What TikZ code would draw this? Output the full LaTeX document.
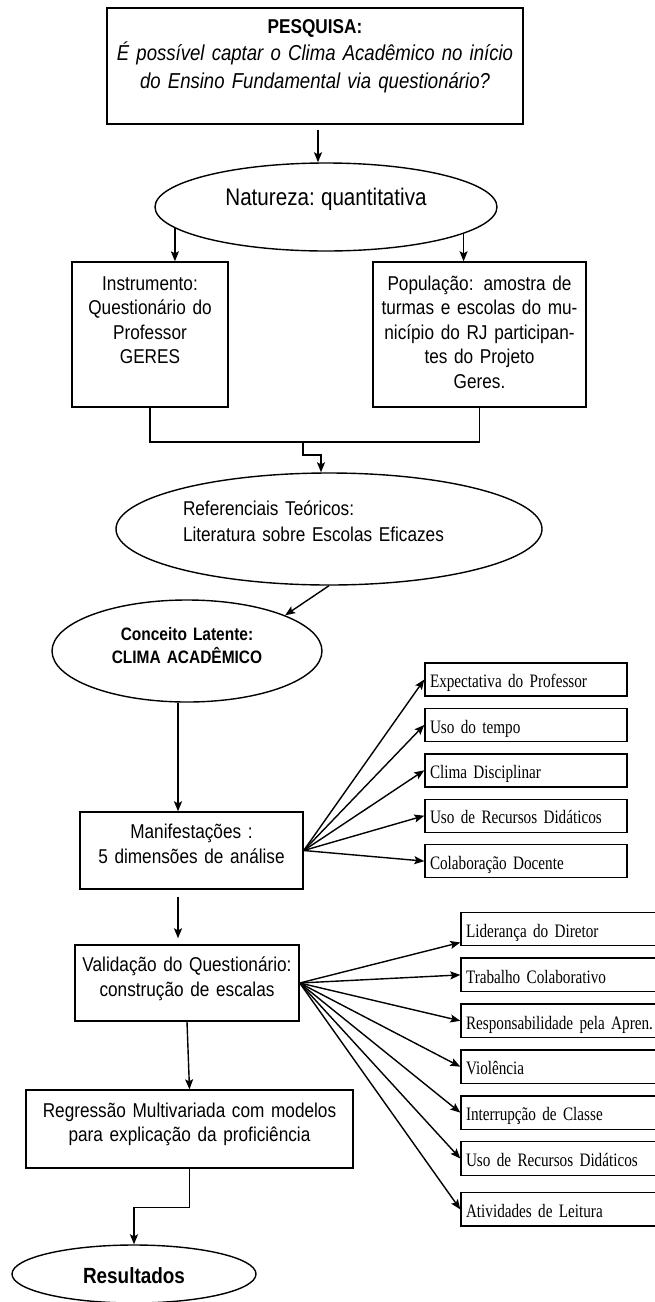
\documentclass[tikz,border=0pt]{standalone}
\usepackage{fontspec}
\setmainfont{Liberation Sans}[FakeStretch=0.86,WordSpace=0.75]
\newfontfamily\tnr{Liberation Serif}[FakeStretch=0.8,WordSpace=0.6]
\usetikzlibrary{arrows,arrows.meta,positioning,shapes.geometric}

\begin{document}
\begin{tikzpicture}[x=0.5pt,y=-0.5pt,>={Stealth[length=5pt,width=4pt,inset=1pt]},line width=0.7pt,
  caixa/.style={draw,rectangle,align=center,inner sep=0pt,font=\fontsize{10}{12.5}\selectfont},
  elipse/.style={draw,ellipse,align=center,inner sep=0pt},
  fator/.style={draw,rectangle,align=left,inner xsep=2.5pt,inner ysep=0pt,text width=96pt,
    minimum height=16.5pt,text height=8.25pt,text depth=0pt,font=\tnr\fontsize{9.5}{11}\selectfont},
  seta/.style={->}]
  \useasboundingbox (0,0) rectangle (654,1302);
  % fluxo principal
  \node[caixa,minimum width=208pt,minimum height=58pt,text width=204pt,text height=7.2pt,text depth=40.2pt,
        font=\fontsize{10.8}{13.75}\selectfont\itshape] (pesquisa) at (315,66)
        {{\fontsize{10}{13.75}\selectfont\upshape\bfseries PESQUISA:}\\
         É possível captar o Clima Acadêmico no início\\
         do Ensino Fundamental via questionário?};
  \node[elipse,minimum width=171pt,minimum height=44pt,text height=8.6pt,text depth=10.6pt,
        font=\fontsize{12}{14}\selectfont] (natureza) at (326,207) {Natureza: quantitativa};
  \node[caixa,minimum width=78pt,minimum height=72.5pt,text width=76pt,text height=7.2pt,text depth=51.7pt,
        font=\fontsize{10}{12.25}\selectfont] (instr) at (150,334.5)
        {Instrumento:\\ Questionário do\\ Professor\\ GERES};
  \node[caixa,minimum width=106.5pt,minimum height=72.5pt,text width=104pt,text height=7.2pt,text depth=51.7pt,
        font=\fontsize{10}{12.25}\selectfont] (populacao) at (479.5,334.5)
        {População: amostra de\\ turmas e escolas do mu-\\ nicípio do RJ participan-\\ tes do Projeto\\ Geres.};
  \coordinate (juncao) at (303,442);
  \node[elipse,minimum width=213pt,minimum height=56pt,text width=146pt,align=left,text height=7.2pt,text depth=21.2pt,
        font=\fontsize{10}{13}\selectfont] (referenciais) at (329,529)
        {Referenciais Teóricos:\\ Literatura sobre Escolas Eficazes};
  \node[elipse,minimum width=135pt,minimum height=51pt,text width=88pt,text height=6.5pt,text depth=17.5pt,
        font=\fontsize{9}{11.5}\selectfont\bfseries] (conceito) at (187,651)
        {Conceito Latente:\\ CLIMA ACADÊMICO};
  \node[caixa,minimum width=111.5pt,minimum height=38.5pt,text width=108pt,text height=7.2pt,text depth=19.7pt] (manifest) at (191.5,850.5)
        {Manifestações :\\ 5 dimensões de análise};
  \node[caixa,minimum width=112pt,minimum height=38pt,text width=108pt,text height=7.2pt,text depth=19.2pt] (validacao) at (187,983)
        {Validação do Questionário:\\ construção de escalas};
  \node[caixa,minimum width=163.5pt,minimum height=39pt,text width=160pt,text height=7.2pt,text depth=19.2pt,
        font=\fontsize{10}{12}\selectfont] (regressao) at (189.5,1129)
        {Regressão Multivariada com modelos\\ para explicação da proficiência};
  \node[elipse,minimum width=122pt,minimum height=29pt,text height=9pt,text depth=0pt,
        font=\fontsize{11}{13}\selectfont\bfseries] (resultados) at (134,1274) {Resultados};
  % dimensoes de analise
  \node[fator]          (expectativa) at (526,679.5)          {Expectativa do Professor};
  \node[fator]          (tempo)       [below=5.5pt of expectativa] {Uso do tempo};
  \node[fator]          (disciplinar) [below=5.5pt of tempo]       {Clima Disciplinar};
  \node[fator]          (recursos)    [below=5.5pt of disciplinar] {Uso de Recursos Didáticos};
  \node[fator]          (colaboracao) [below=5.5pt of recursos]    {Colaboração Docente};
  % escalas
\tikzset{fator/.append style={text width=99pt,minimum height=16.75pt}}
  \node[fator]          (lideranca)   at (565,929)                {Liderança do Diretor};
  \node[fator]          (trabalho)    [below=5.5pt of lideranca]   {Trabalho Colaborativo};
  \node[fator]          (responsab)   [below=5.5pt of trabalho]    {Responsabilidade pela Apren.};
  \node[fator]          (violencia)   [below=5.5pt of responsab]   {Violência};
  \node[fator]          (interrupcao) [below=5.5pt of violencia]   {Interrupção de Classe};
  \node[fator]          (recursosb)   [below=5.5pt of interrupcao] {Uso de Recursos Didáticos};
  \node[fator]          (leitura)     [below=8pt of recursosb]     {Atividades de Leitura};
  % conexoes
  \draw[seta,shorten <=2.5pt] ([xshift=1.5pt]pesquisa.south) -- ([xshift=1.5pt]pesquisa.south |- natureza.north);
  \draw[seta] (natureza.188) -- (natureza.188 |- instr.north);
  \draw[seta] (natureza.349) -- (natureza.349 |- populacao.north);
  \draw (instr.south) |- (juncao) -| (populacao.south);
  \draw[seta] (juncao) -- ++(0,13) -| ([xshift=-4pt]referenciais.north);
  \draw[seta] (referenciais.south) -- (conceito.20);
  \draw[seta] ([xshift=-4.5pt]conceito.south) -- ([xshift=-4.5pt]conceito.south |- manifest.north);
  \draw[seta,shorten <=3.5pt,shorten >=3pt] ([xshift=-6.75pt]manifest.south) -- ([xshift=-6.75pt]manifest.south |- validacao.north);
  \draw[seta] (validacao.south) -- (regressao.north);
  \draw[seta] (regressao.south) -- ++(0,39) -| (resultados.north);
\path
      (manifest.east)   edge [seta]   (expectativa.west)
      (manifest.east)   edge [seta]   (tempo.west)
      (manifest.east)   edge [seta]   (disciplinar.west)
      (manifest.east)   edge [seta]   (recursos.west)
      (manifest.east)   edge [seta]   (colaboracao.west);
\path
      (validacao.east)  edge [seta]   ([yshift=2pt]lideranca.south west)
      (validacao.east)  edge [seta]   (trabalho.west)
      (validacao.east)  edge [seta]   (responsab.west)
      (validacao.east)  edge [seta]   (violencia.west)
      (validacao.east)  edge [seta]   (interrupcao.west)
      (validacao.east)  edge [seta]   (recursosb.west)
      (validacao.east)  edge [seta]   (leitura.west);
\end{tikzpicture}
\end{document}
